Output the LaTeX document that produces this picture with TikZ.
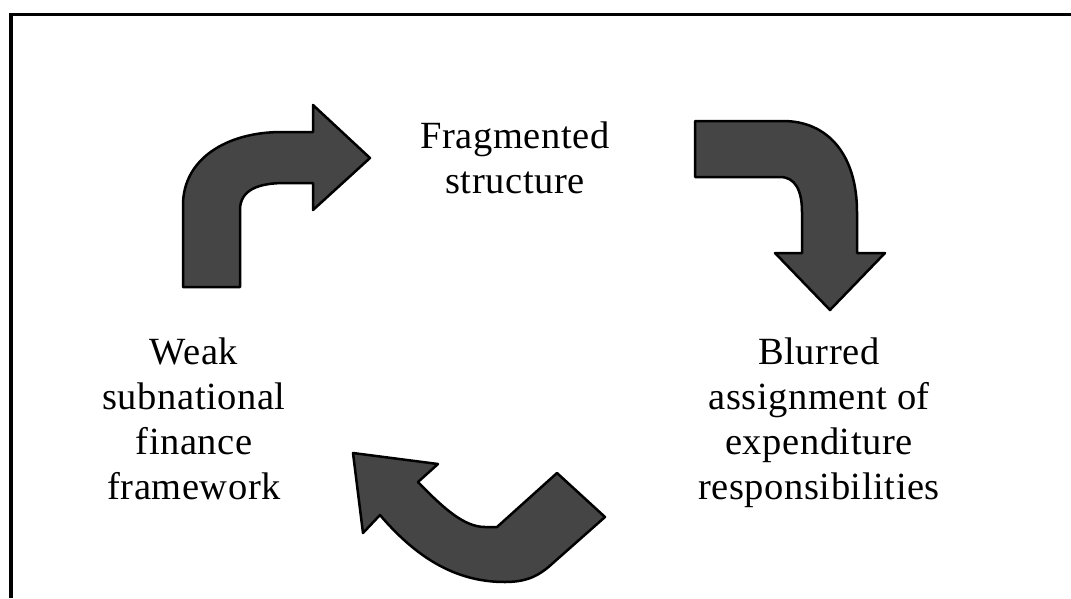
\documentclass[tikz,border=0pt]{standalone}
\usepackage{fontspec}
\setmainfont{Liberation Serif}[LetterSpace=1.5]
\begin{document}
\begin{tikzpicture}[x=1pt, y=-1pt,
    label text/.style={align=center, inner sep=0pt, anchor=base,
      font=\fontsize{38.5}{45}\selectfont},
    block arrow/.style={draw=black, line width=2.5pt, fill=black!73,
      line join=round}]
      \useasboundingbox (0,0) rectangle (1071,598);
      \begin{scope}[shift={(0,0)}]
        %% frame
        \draw[line width=3.6pt] (10.8,598) -- (10.8,14.6) -- (1071,14.6);

        %% texts (anchored at the last line)
        \node[label text] (frag) at (515,193) {Fragmented\\structure};
        \node[label text] (blur) at (819,499)
             {Blurred\\assignment of\\expenditure\\responsibilities};
        \node[label text] (weak) at (194,499)
             {Weak\\subnational\\finance\\framework};

        %% up and right
        \draw[block arrow] (183,287) -- (183,205)
             .. controls (183,160) and (225,132) .. (282,132)
             -- (313,132) -- (313,105) -- (370,158) -- (313,210) -- (313,183)
             -- (285,183) .. controls (258,183) and (240,190) .. (240,210)
             -- (240,287) -- cycle;

        %% right and down
        \draw[block arrow] (695,121) -- (783,121)
             .. controls (828,121) and (857,155) .. (857,212)
             -- (857,253) -- (885,253) -- (830,310) -- (775,253) -- (802,253)
             -- (802,212) .. controls (802,190) and (795,177) .. (780,177)
             -- (695,177) -- cycle;

        %% back up to the left
        \draw[block arrow] (353,453) -- (438,464) -- (418,482)
             .. controls (445,510) and (465,527) .. (485,527)
             -- (497,527) -- (557,473) -- (605,517) -- (553,563)
             .. controls (540,575) and (528,582) .. (505,582)
             .. controls (460,582) and (420,562) .. (380,515)
             -- (363,533) -- cycle;
      \end{scope}
\end{tikzpicture}
\end{document}
